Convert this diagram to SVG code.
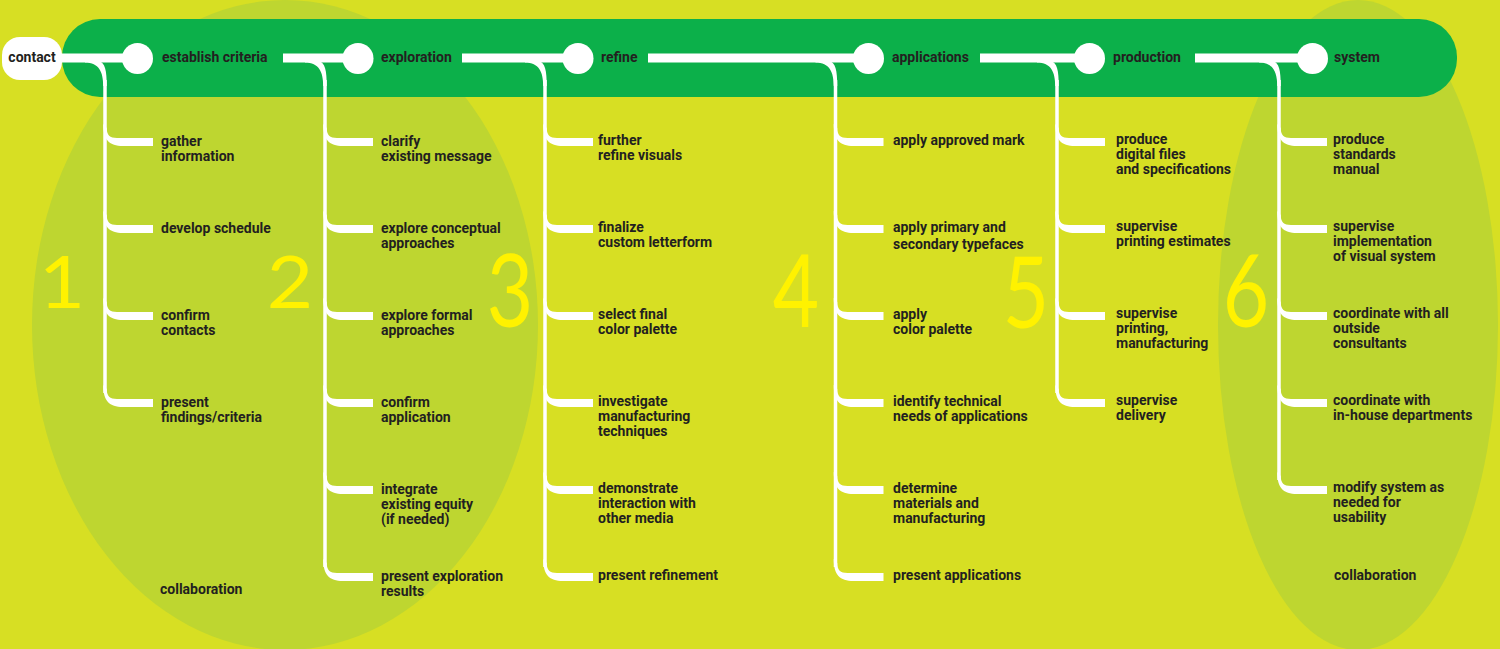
<svg xmlns="http://www.w3.org/2000/svg" xmlns:xlink="http://www.w3.org/1999/xlink" width="1500" height="649" viewBox="0 0 1500 649">
<style>
.t{font-family:Roboto,"Liberation Sans",sans-serif;font-weight:700;font-size:14px;fill:#231f20}
.num{font-family:Lato,"Open Sans",sans-serif;font-weight:400;font-size:100px;fill:#fff200;text-anchor:middle}
.w{fill:#ffffff}
.ml{stroke:#ffffff;stroke-width:9;fill:none}
.vl{stroke:#ffffff;stroke-width:3.5;fill:none}
</style>
<defs>
<path id="tick" d="M-1.75,-18 C-1.75,-2 4.25,4 18,4 L48,4 L48,-4 L12,-4 C4.75,-4 1.75,-7 1.75,-14 Z" fill="#ffffff"/>
<path id="drop" d="M-20,3 L-6,3 C0,5 1.75,12 1.75,28 L-1.75,28 C-1.75,14 -6,4.5 -20,4.5 Z" fill="#ffffff"/>
</defs>
<rect x="0" y="0" width="1500" height="649" fill="#d7df23"/>
<ellipse cx="285" cy="325" rx="253" ry="325" fill="#bed630"/>
<ellipse cx="1358" cy="325" rx="140" ry="325" fill="#bed630"/>
<rect x="62" y="19" width="1395" height="78" rx="38" ry="38" fill="#0cb04a"/>
<g id="numbers">
<text class="num" transform="translate(62,308) scale(0.8,0.71)">1</text>
<text class="num" transform="translate(290,308) scale(0.8,0.71)">2</text>
<text class="num" transform="translate(510,327) scale(0.8,1)">3</text>
<text class="num" transform="translate(796,327) scale(0.8,1)">4</text>
<text class="num" transform="translate(1026,328) scale(0.8,0.98)">5</text>
<text class="num" transform="translate(1246,327) scale(0.8,1)">6</text>
</g>
<g id="connectors">
<line class="ml" x1="58" y1="58" x2="137" y2="58"/>
<line class="ml" x1="283" y1="58" x2="358" y2="58"/>
<line class="ml" x1="462" y1="58" x2="578" y2="58"/>
<line class="ml" x1="648" y1="58" x2="868" y2="58"/>
<line class="ml" x1="980" y1="58" x2="1089" y2="58"/>
<line class="ml" x1="1195" y1="58" x2="1312" y2="58"/>
<use href="#drop" x="105" y="58"/>
<use href="#drop" x="325" y="58"/>
<use href="#drop" x="545" y="58"/>
<use href="#drop" x="835.5" y="58"/>
<use href="#drop" x="1057" y="58"/>
<use href="#drop" x="1279" y="58"/>
<line class="vl" x1="105" y1="80" x2="105" y2="393"/>
<line class="vl" x1="325" y1="80" x2="325" y2="567"/>
<line class="vl" x1="545" y1="80" x2="545" y2="567"/>
<line class="vl" x1="835.5" y1="80" x2="835.5" y2="567"/>
<line class="vl" x1="1057" y1="80" x2="1057" y2="393"/>
<line class="vl" x1="1279" y1="80" x2="1279" y2="480"/>
<use href="#tick" x="105" y="142"/><use href="#tick" x="105" y="229"/><use href="#tick" x="105" y="316"/><use href="#tick" x="105" y="403"/>
<use href="#tick" x="325" y="142"/><use href="#tick" x="325" y="229"/><use href="#tick" x="325" y="316"/><use href="#tick" x="325" y="403"/><use href="#tick" x="325" y="490"/><use href="#tick" x="325" y="577"/>
<use href="#tick" x="545" y="142"/><use href="#tick" x="545" y="229"/><use href="#tick" x="545" y="316"/><use href="#tick" x="545" y="403"/><use href="#tick" x="545" y="490"/><use href="#tick" x="545" y="577"/>
<use href="#tick" x="835.5" y="142"/><use href="#tick" x="835.5" y="229"/><use href="#tick" x="835.5" y="316"/><use href="#tick" x="835.5" y="403"/><use href="#tick" x="835.5" y="490"/><use href="#tick" x="835.5" y="577"/>
<use href="#tick" x="1057" y="142"/><use href="#tick" x="1057" y="229"/><use href="#tick" x="1057" y="316"/><use href="#tick" x="1057" y="403"/>
<use href="#tick" x="1279" y="142"/><use href="#tick" x="1279" y="229"/><use href="#tick" x="1279" y="316"/><use href="#tick" x="1279" y="403"/><use href="#tick" x="1279" y="490"/>
</g>
<g id="contact">
<rect x="2" y="37" width="60" height="43" rx="18" ry="18" class="w"/>
<text class="t" x="32" y="62" text-anchor="middle">contact</text>
</g>
<g id="stage1">
<circle cx="137.5" cy="58.5" r="15.5" class="w"/>
<text class="t" x="162" y="62">establish criteria</text>
<text class="t" x="161" y="146">gather<tspan x="161" dy="15">information</tspan></text>
<text class="t" x="161" y="233">develop schedule</text>
<text class="t" x="161" y="320">confirm<tspan x="161" dy="15">contacts</tspan></text>
<text class="t" x="161" y="407">present<tspan x="161" dy="15">findings/criteria</tspan></text>
<text class="t" x="160" y="594">collaboration</text>
</g>
<g id="stage2">
<circle cx="358" cy="58.5" r="15.5" class="w"/>
<text class="t" x="381" y="62">exploration</text>
<text class="t" x="381" y="146">clarify<tspan x="381" dy="15">existing message</tspan></text>
<text class="t" x="381" y="233">explore conceptual<tspan x="381" dy="15">approaches</tspan></text>
<text class="t" x="381" y="320">explore formal<tspan x="381" dy="15">approaches</tspan></text>
<text class="t" x="381" y="407">confirm<tspan x="381" dy="15">application</tspan></text>
<text class="t" x="381" y="494">integrate<tspan x="381" dy="15">existing equity</tspan><tspan x="381" dy="15">(if needed)</tspan></text>
<text class="t" x="381" y="581">present exploration<tspan x="381" dy="15">results</tspan></text>
</g>
<g id="stage3">
<circle cx="578" cy="58.5" r="15.5" class="w"/>
<text class="t" x="601" y="62">refine</text>
<text class="t" x="598" y="145">further<tspan x="598" dy="15">refine visuals</tspan></text>
<text class="t" x="598" y="232">finalize<tspan x="598" dy="15">custom letterform</tspan></text>
<text class="t" x="598" y="319">select final<tspan x="598" dy="15">color palette</tspan></text>
<text class="t" x="598" y="406">investigate<tspan x="598" dy="15">manufacturing</tspan><tspan x="598" dy="15">techniques</tspan></text>
<text class="t" x="598" y="493">demonstrate<tspan x="598" dy="15">interaction with</tspan><tspan x="598" dy="15">other media</tspan></text>
<text class="t" x="598" y="580">present refinement</text>
</g>
<g id="stage4">
<circle cx="868.5" cy="58.5" r="15.5" class="w"/>
<text class="t" x="892" y="62">applications</text>
<text class="t" x="893" y="145">apply approved mark</text>
<text class="t" x="893" y="232">apply primary  and<tspan x="893" dy="17">secondary typefaces</tspan></text>
<text class="t" x="893" y="319">apply<tspan x="893" dy="15">color palette</tspan></text>
<text class="t" x="893" y="406">identify technical<tspan x="893" dy="15">needs of applications</tspan></text>
<text class="t" x="893" y="493">determine<tspan x="893" dy="15">materials and</tspan><tspan x="893" dy="15">manufacturing</tspan></text>
<text class="t" x="893" y="580">present applications</text>
</g>
<g id="stage5">
<circle cx="1089.5" cy="58.5" r="15.5" class="w"/>
<text class="t" x="1113" y="62">production</text>
<text class="t" x="1116" y="144">produce<tspan x="1116" dy="15">digital files</tspan><tspan x="1116" dy="15">and specifications</tspan></text>
<text class="t" x="1116" y="231">supervise<tspan x="1116" dy="15">printing estimates</tspan></text>
<text class="t" x="1116" y="318">supervise<tspan x="1116" dy="15">printing,</tspan><tspan x="1116" dy="15">manufacturing</tspan></text>
<text class="t" x="1116" y="405">supervise<tspan x="1116" dy="15">delivery</tspan></text>
</g>
<g id="stage6">
<circle cx="1312.5" cy="58.5" r="15.5" class="w"/>
<text class="t" x="1334" y="62">system</text>
<text class="t" x="1333" y="144">produce<tspan x="1333" dy="15">standards</tspan><tspan x="1333" dy="15">manual</tspan></text>
<text class="t" x="1333" y="231">supervise<tspan x="1333" dy="15">implementation</tspan><tspan x="1333" dy="15">of visual system</tspan></text>
<text class="t" x="1333" y="318">coordinate with all<tspan x="1333" dy="15">outside</tspan><tspan x="1333" dy="15">consultants</tspan></text>
<text class="t" x="1333" y="405">coordinate with<tspan x="1333" dy="15">in-house departments</tspan></text>
<text class="t" x="1333" y="492">modify system as<tspan x="1333" dy="15">needed for</tspan><tspan x="1333" dy="15">usability</tspan></text>
<text class="t" x="1334" y="580">collaboration</text>
</g>
</svg>
